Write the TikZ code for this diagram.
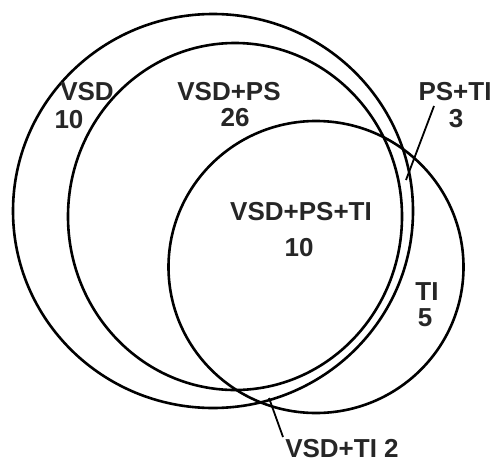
\documentclass[tikz,border=0pt]{standalone}
\usepackage{fontspec}
\setmainfont{Liberation Sans}
\begin{document}
\begin{tikzpicture}[x=1pt,y=-1pt,
  setline/.style={line width=2.6pt},
  leader/.style={line width=1.8pt},
  lbl/.style={font=\fontsize{26}{28}\selectfont\bfseries, inner sep=0pt, text=black!85}]
\useasboundingbox (0,0) rectangle (497,463);
% sets
\draw[setline] (213,211) ellipse [x radius=200pt, y radius=197pt];
\draw[setline] (235,216.5) ellipse [x radius=167pt, y radius=173.5pt];
\draw[setline] (316,267) ellipse [x radius=147.5pt, y radius=146pt];
% labels
\node[lbl] (vsd) at (87,92) {VSD};
\node[lbl] (vsdn) at (69,120) {10};
\node[lbl] (vsdps) at (229,92) {VSD+PS};
\node[lbl] (vsdpsn) at (235,118) {26};
\node[lbl] (psti) at (455,92) {PS+TI};
\node[lbl] (pstin) at (456,119) {3};
\node[lbl] (all) at (301,212) {VSD+PS+TI};
\node[lbl] (alln) at (299,248) {10};
\node[lbl] (ti) at (427,292) {TI};
\node[lbl] (tin) at (425,318) {5};
\node[lbl] (vsdti) at (342,449) {VSD+TI\ 2};
% leaders
\coordinate (pstiA) at (434,106);
\coordinate (pstiB) at (406,180);
\coordinate (vsdtiA) at (283,437);
\coordinate (vsdtiB) at (269,398);
\draw[leader] (pstiA) -- (pstiB);
\draw[leader] (vsdtiA) -- (vsdtiB);
\end{tikzpicture}
\end{document}
